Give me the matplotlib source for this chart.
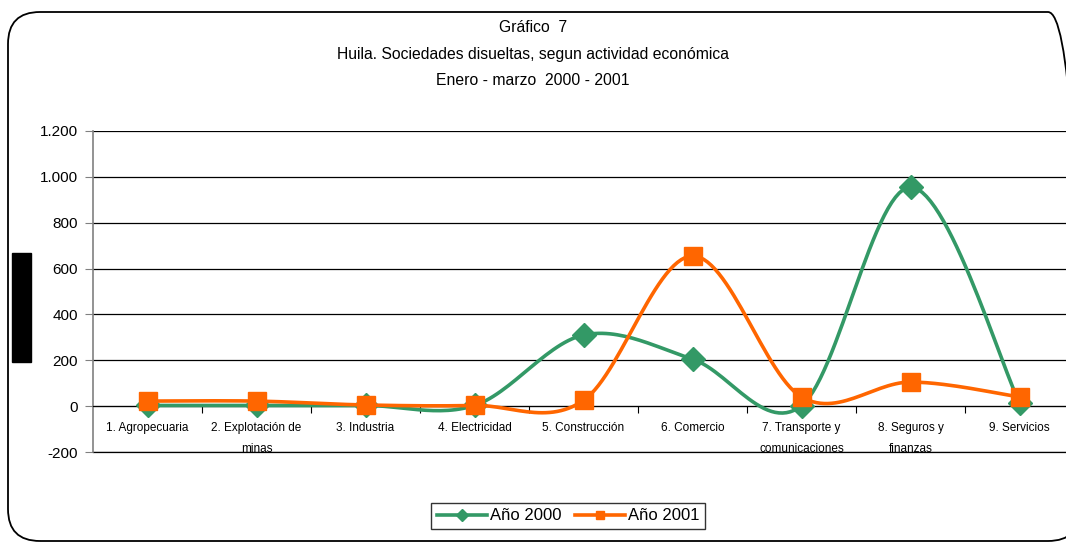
import numpy as np
import matplotlib.pyplot as plt
from matplotlib.patches import FancyBboxPatch, Rectangle
from matplotlib.ticker import FuncFormatter

# data
categorias = ["1. Agropecuaria", "2. Explotación de\nminas", "3. Industria",
              "4. Electricidad", "5. Construcción", "6. Comercio",
              "7. Transporte y\ncomunicaciones", "8. Seguros y\nfinanzas",
              "9. Servicios"]
anio_2000 = [3, 3, 3, 3, 310, 205, 2, 955, 15]
anio_2001 = [22, 22, 5, 3, 25, 655, 40, 105, 40]
y_ticks = [-200, 0, 200, 400, 600, 800, 1000, 1200]

narrow = ['Liberation Sans Narrow', 'Liberation Sans', 'DejaVu Sans']


def suavizar(x, y, n=30):
    # catmull-rom like excel "smoothed line"
    x = np.asarray(x, float)
    y = np.asarray(y, float)
    px = np.concatenate([[x[0]], x, [x[-1]]])
    py = np.concatenate([[y[0]], y, [y[-1]]])
    xs, ys = [], []
    t = np.linspace(0, 1, n)
    for i in range(1, len(px) - 2):
        for arr, out in ((px, xs), (py, ys)):
            p0, p1, p2, p3 = arr[i - 1], arr[i], arr[i + 1], arr[i + 2]
            c1 = p1 + (p2 - p0) / 6
            c2 = p2 - (p3 - p1) / 6
            b = ((1 - t) ** 3 * p1 + 3 * (1 - t) ** 2 * t * c1
                 + 3 * (1 - t) * t ** 2 * c2 + t ** 3 * p2)
            out.extend(b)
    return np.array(xs), np.array(ys)


fig = plt.figure(figsize=(10.66, 5.43), dpi=100)

# rounded frame round the chart (right side runs off the picture)
marco = FancyBboxPatch((0.08, 0.02), 10.72, 5.29,
                       boxstyle="round,pad=0,rounding_size=0.32",
                       transform=fig.dpi_scale_trans, fill=False,
                       edgecolor='black', linewidth=1.3, clip_on=False)
fig.patches.append(marco)
fig.patches.append(Rectangle((0.12, 1.81), 0.19, 1.09, transform=fig.dpi_scale_trans,
                             facecolor='black', edgecolor='black'))

ax = fig.add_axes([93 / 1066, 91 / 543, 973 / 1066, 321 / 543])
x = np.arange(1, len(categorias) + 1)

verde = '#339966'
naranja = '#FF6600'

sx, sy = suavizar(x, anio_2000)
ax.plot(sx, sy, color=verde, lw=2.6, zorder=3)
ax.plot(x, anio_2000, ls='none', marker='D', ms=12, color=verde, zorder=4)
sx, sy = suavizar(x, anio_2001)
ax.plot(sx, sy, color=naranja, lw=2.6, zorder=5)
ax.plot(x, anio_2001, ls='none', marker='s', ms=13, color=naranja, zorder=6)

ax.set_xlim(0.5, 0.5 + 973 / 109)
ax.set_ylim(-200, 1200)
ax.set_yticks(y_ticks)
ax.yaxis.set_major_formatter(FuncFormatter(lambda v, p: f"{int(v):,}".replace(",", ".")))
ax.yaxis.grid(True, color='black', lw=0.9)
ax.axhline(-200, color='black', lw=0.9, clip_on=False, zorder=1)
ax.set_axisbelow(True)

for s in ['top', 'right']:
    ax.spines[s].set_visible(False)
ax.spines['left'].set_color('#808080')
ax.spines['left'].set_linewidth(1.2)
ax.spines['bottom'].set_position(('data', 0))
ax.spines['bottom'].set_color('black')

ax.set_xticks(np.arange(1.5, 9.5, 1))
ax.set_xticklabels([])
ax.tick_params(axis='x', direction='out', length=5, color='black')
ax.tick_params(axis='y', direction='out', length=6, color='#808080', labelsize=11,
               pad=5)
for t in ax.get_yticklabels():
    t.set_family(['Liberation Sans', 'DejaVu Sans'])

for xi, lab in zip(x, categorias):
    ax.text(xi, -70, lab, ha='center', va='top', fontsize=8.5, family=narrow,
            linespacing=2.0)

for yy, txt in [(28, "Gráfico  7"),
                (54, "Huila. Sociedades disueltas, segun actividad económica"),
                (80, "Enero - marzo  2000 - 2001")]:
    fig.text(0.5, 1 - yy / 543, txt, ha='center', va='center', fontsize=11.3,
             family=narrow)

h1, = ax.plot([], [], color=verde, lw=2.6, marker='D', ms=6)
h2, = ax.plot([], [], color=naranja, lw=2.6, marker='s', ms=6)
leg = fig.legend([h1, h2], ["Año 2000", "Año 2001"], loc='center',
                 bbox_to_anchor=(568 / 1066, 1 - 516 / 543), ncol=2, frameon=True,
                 fancybox=False, edgecolor='black', handlelength=3.0,
                 handletextpad=0.2, columnspacing=0.8, borderpad=0.35,
                 prop={'family': ['Liberation Sans', 'DejaVu Sans'], 'size': 12})
leg.get_frame().set_linewidth(1.0)

fig.savefig("out.png", dpi=100)
